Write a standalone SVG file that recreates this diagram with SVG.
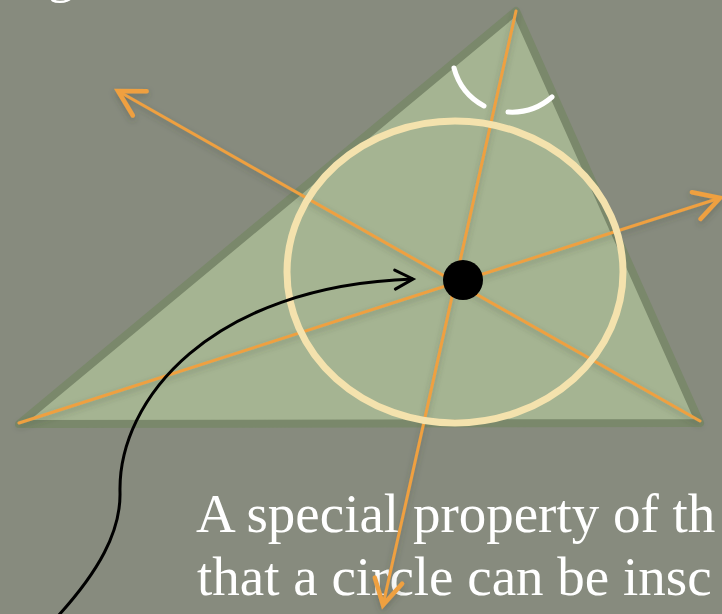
<svg xmlns="http://www.w3.org/2000/svg" width="722" height="614" viewBox="0 0 722 614">
  <style>
    .bisector { fill: none; stroke: #efa040; stroke-width: 3; stroke-linecap: round; }
    .caption { font-family: "Liberation Serif", "DejaVu Serif", serif; font-size: 55px; fill: #ffffff; }
    .angle { fill: none; stroke: #ffffff; stroke-width: 5; stroke-linecap: round; }
  </style>
  <defs>
    <marker id="orangeHead" markerUnits="userSpaceOnUse" markerWidth="40" markerHeight="40" viewBox="-30 -20 34 40" refX="0" refY="0" orient="auto">
      <path d="M -25 -14 L 0 0 L -25 14" fill="none" stroke="#efa040" stroke-width="4.5" stroke-linejoin="miter" stroke-linecap="round"/>
    </marker>
    <marker id="blackHead" markerUnits="userSpaceOnUse" markerWidth="30" markerHeight="30" viewBox="-22 -15 26 30" refX="0" refY="0" orient="auto">
      <path d="M -18 -9.5 L 0 0 L -18 9.5" fill="none" stroke="#000000" stroke-width="3" stroke-linejoin="miter" stroke-linecap="round"/>
    </marker>
    <filter id="soft" x="-10%" y="-10%" width="120%" height="120%">
      <feDropShadow dx="0" dy="3" stdDeviation="3" flood-color="#3c4432" flood-opacity="0.35"/>
    </filter>
  </defs>

  <rect id="background" x="0" y="0" width="722" height="614" fill="#878b7e"/>

  <g id="title-fragment">
    <text class="caption" x="47" y="-9" font-size="58">g</text>
  </g>

  <g id="triangle">
    <polygon points="19,424 516,11 700,423" fill="#a5b492" stroke="#7a886b" stroke-width="8" stroke-linejoin="round"/>
  </g>

  <g id="caption">
    <text class="caption" x="196" y="532">A special property of th</text>
    <text class="caption" x="197" y="595">that a circle can be insc</text>
  </g>

  <g id="connectors">
    <line class="bisector" x1="19" y1="423" x2="720" y2="198" marker-end="url(#orangeHead)" filter="url(#soft)"/>
    <line class="bisector" x1="516" y1="11" x2="383" y2="605" marker-end="url(#orangeHead)" filter="url(#soft)"/>
    <line class="bisector" x1="700" y1="421" x2="118" y2="91" marker-end="url(#orangeHead)" filter="url(#soft)"/>
  </g>

  <g id="incircle">
    <ellipse cx="455" cy="272" rx="168" ry="151" fill="none" stroke="#f4e2ad" stroke-width="7"/>
  </g>

  <g id="angle-mark">
    <path class="angle" d="M 454 68 A 61 61 0 0 0 484 106"/>
    <path class="angle" d="M 508 112 A 61 61 0 0 0 552 97"/>
  </g>

  <g id="incenter">
    <circle cx="463" cy="280" r="20" fill="#000000"/>
  </g>

  <g id="pointer">
    <path d="M 58 616 C 98 572, 121 532, 120 492 C 118 400, 210 286, 413 279" fill="none" stroke="#000000" stroke-width="3" marker-end="url(#blackHead)"/>
  </g>
</svg>
